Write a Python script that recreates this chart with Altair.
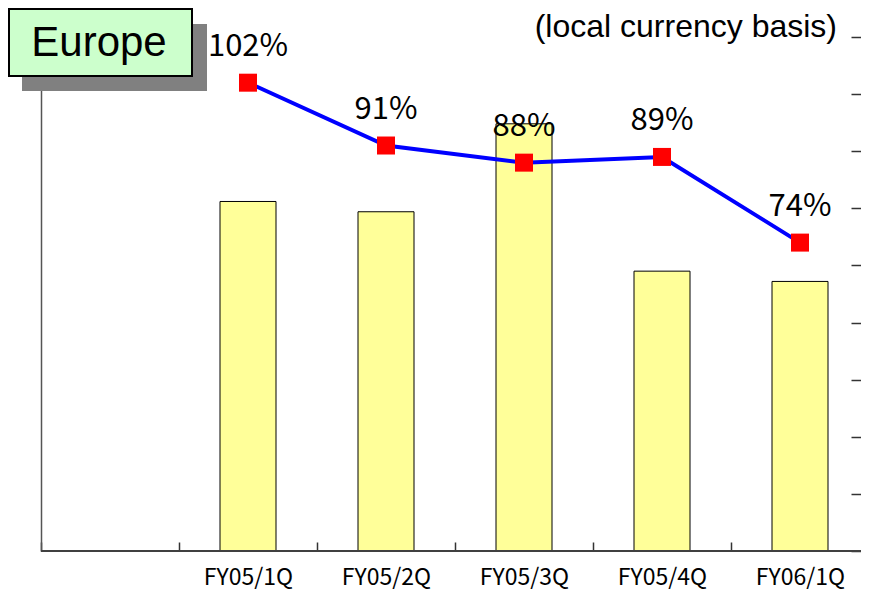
import altair as alt
import pandas as pd

quarters = ["FY05/1Q", "FY05/2Q", "FY05/3Q", "FY05/4Q", "FY06/1Q"]
slots = [""] + quarters
bar_values = [612, 594, 748, 490, 472]
ratio_values = [102, 91, 88, 89, 74]
ratio_labels = [f"{v}%" for v in ratio_values]
ratio_ticks = [20, 30, 40, 50, 60, 70, 80, 90, 100, 110]

df = pd.DataFrame({"quarter": quarters, "sales": bar_values,
                   "ratio": ratio_values, "label": ratio_labels})
one = pd.DataFrame({"k": [0]})

W, H = 820, 514

x_scale = alt.Scale(domain=slots, paddingInner=0, paddingOuter=0, range=[0, 828])
x_axis = alt.Axis(title=None, offset=-9, tickSize=9, domain=False, tickBand="extent",
                  tickColor="#333333", tickWidth=1.5, labelFont="Noto Sans CJK JP",
                  labelFontSize=23, labelColor="black", labelPadding=15, labelAngle=0,
                  grid=False)
X = alt.X("quarter:N", scale=x_scale, axis=x_axis)

bar_y = alt.Scale(domain=[0, 900])
line_y = alt.Scale(domain=[20, 110])

bars = alt.Chart(df).mark_bar(size=56, color="#ffff99", stroke="black", strokeWidth=1).encode(
    x=X,
    y=alt.Y("sales:Q", scale=bar_y,
            axis=alt.Axis(title=None, orient="left", ticks=False, labels=False, grid=False,
                          domainColor="#555555", domainWidth=1.5)),
)
base_rule = alt.Chart(df).mark_rule(color="#404040", strokeWidth=1.5).encode(
    y=alt.datum(0, scale=bar_y, axis=None)
)

line = alt.Chart(df).mark_line(color="#0000ff", strokeWidth=4).encode(
    x=X,
    y=alt.Y("ratio:Q", scale=line_y,
            axis=alt.Axis(title=None, orient="right", labels=False, domain=False, grid=False,
                          values=ratio_ticks, tickSize=10, offset=-10,
                          tickColor="#333333", tickWidth=1.5)),
)
points = alt.Chart(df).mark_square(size=324, color="#ff0000", opacity=1).encode(
    x=X, y=alt.Y("ratio:Q", scale=line_y, axis=None)
)
labels = alt.Chart(df).mark_text(font="Noto Sans CJK JP", fontSize=31,
                                 baseline="alphabetic", dy=-27, color="black").encode(
    x=X, y=alt.Y("ratio:Q", scale=line_y, axis=None), text="label:N"
)

shadow = alt.Chart(one).mark_rect(color="#808080").encode(
    x=alt.value(-19), x2=alt.value(166), y=alt.value(-13), y2=alt.value(54)
)
box = alt.Chart(one).mark_rect(fill="#ccffcc", stroke="black", strokeWidth=2).encode(
    x=alt.value(-32), x2=alt.value(151), y=alt.value(-28), y2=alt.value(39)
)
europe = alt.Chart(one).mark_text(text="Europe", font="Liberation Sans", fontSize=42,
                                  align="center", baseline="alphabetic", color="black").encode(
    x=alt.value(58), y=alt.value(19)
)
basis = alt.Chart(one).mark_text(text="(local currency basis)", font="Liberation Sans",
                                 fontSize=32, align="right", baseline="alphabetic",
                                 color="black").encode(
    x=alt.value(796), y=alt.value(0)
)

chart = alt.layer(bars, base_rule, line, points, labels, shadow, box, europe, basis).resolve_scale(
    y="independent"
).properties(
    width=W, height=H,
    autosize=alt.AutoSizeParams(type="none"),
    padding={"left": 33, "top": 29, "right": 0, "bottom": 41},
    background="white",
).configure_view(stroke=None)

chart.save("out.html", embed_options={"renderer": "svg", "actions": False})
